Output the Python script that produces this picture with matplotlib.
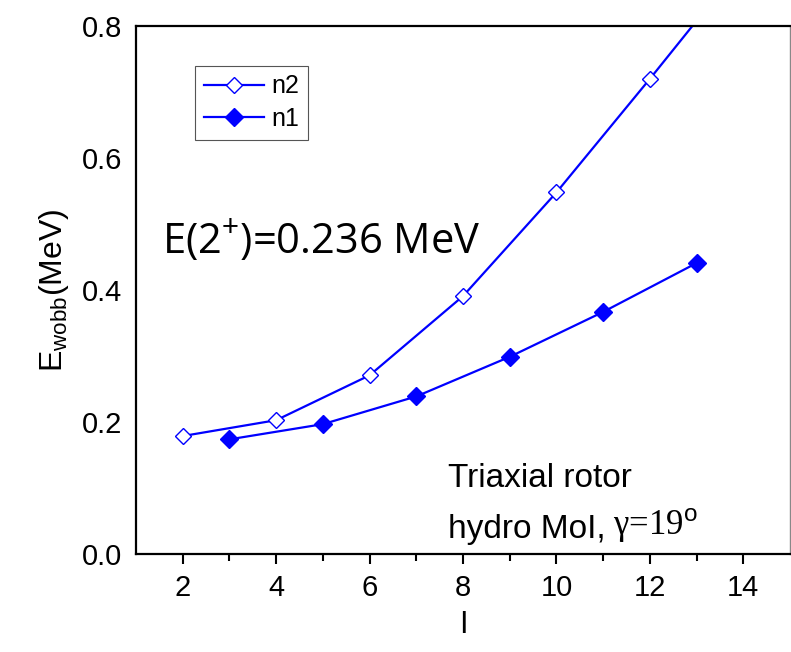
import numpy as np
import matplotlib
matplotlib.use("Agg")
import matplotlib.pyplot as plt

plt.rcParams["font.family"] = "Liberation Sans"
plt.rcParams["mathtext.fontset"] = "custom"
plt.rcParams["mathtext.rm"] = "Liberation Sans"
plt.rcParams["mathtext.it"] = "Liberation Sans"

# wobbling energies vs spin
spin_n2 = [2, 4, 6, 8, 10, 12, 14]
e_n2 = [0.179, 0.203, 0.271, 0.391, 0.548, 0.720, 0.896]
spin_n1 = [3, 5, 7, 9, 11, 13]
e_n1 = [0.174, 0.197, 0.239, 0.299, 0.367, 0.441]

blue = "#0000ff"

fig = plt.figure(figsize=(7.91, 6.52), dpi=100)
ax = fig.add_axes([0.172, 0.150, 0.8267, 0.810])

ax.plot(spin_n2, e_n2, "-", color=blue, lw=1.6, marker="D", ms=8,
        mfc="white", mec=blue, mew=1.0, label="n2")
ax.plot(spin_n1, e_n1, "-", color=blue, lw=1.6, marker="D", ms=9,
        mfc=blue, mec=blue, label="n1")

ax.set_xlim(1, 15)
ax.set_ylim(0, 0.8)
ax.set_xticks([2, 4, 6, 8, 10, 12, 14])
ax.set_xticks([3, 5, 7, 9, 11, 13], minor=True)
ax.set_yticks([0.0, 0.2, 0.4, 0.6, 0.8])
ax.set_yticklabels(["0.0", "0.2", "0.4", "0.6", "0.8"])
ax.tick_params(axis="x", which="major", direction="out", length=7, width=1.5,
               labelsize=21, pad=7)
ax.tick_params(axis="x", which="minor", direction="out", length=5, width=1.5)
ax.tick_params(axis="y", length=0, labelsize=21, pad=10)

for s in ["left", "bottom", "top"]:
    ax.spines[s].set_linewidth(1.6)
ax.spines["right"].set_linewidth(1.0)
ax.spines["right"].set_color("#888888")

ax.set_xlabel("I", fontsize=22, labelpad=6)
ax.set_ylabel("E$_{\\mathrm{wobb}}$(MeV)", fontsize=23, labelpad=8)

leg = ax.legend(loc="upper left", bbox_to_anchor=(0.09, 0.925), fontsize=18,
                fancybox=False, edgecolor="#555555", framealpha=1,
                handlelength=2.4, borderpad=0.35, labelspacing=0.35,
                handletextpad=0.3, borderaxespad=0)
leg.get_frame().set_linewidth(0.8)

ax.text(0.04, 0.57, "E(2$^{+}$)=0.236 MeV", transform=ax.transAxes,
        fontsize=30, family="Open Sans", va="baseline")

ax.text(0.477, 0.127, "Triaxial rotor", transform=ax.transAxes,
        fontsize=24, va="baseline")
t1 = ax.text(0.477, 0.030, "hydro MoI,", transform=ax.transAxes,
             fontsize=24, va="baseline")
ax.annotate("γ=19$^{\\mathrm{o}}$", xy=(1, 0), xycoords=t1,
            xytext=(5, 0), textcoords="offset points",
            fontsize=25, family="Liberation Serif", va="bottom", ha="left")

fig.savefig("out.png", dpi=100)
